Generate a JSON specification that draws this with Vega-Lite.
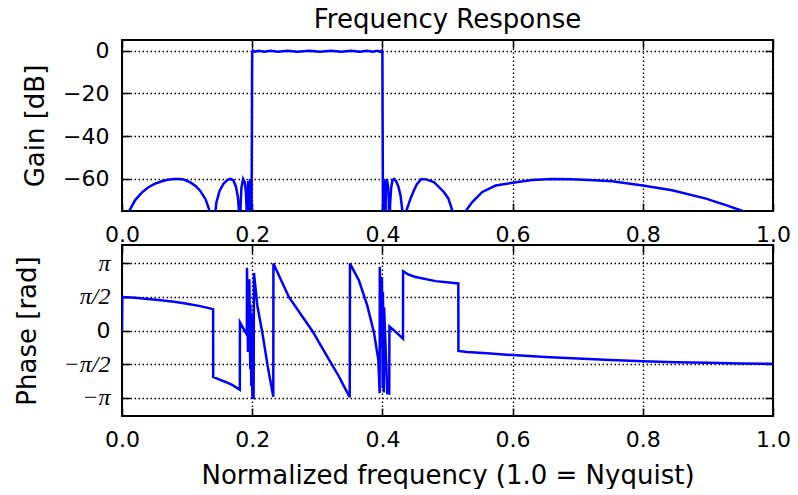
{
  "$schema": "https://vega.github.io/schema/vega-lite/v6.json",
  "padding": {"left": 13, "top": 6, "right": 0, "bottom": 0},
  "background": "white",
  "spacing": 34,
  "bounds": "flush",
  "datasets": {
    "gain": [
      {"f":0,"g":-100},{"f":0.004,"g":-85},{"f":0.008,"g":-78},{"f":0.011,"g":-75},{"f":0.02,"g":-70},{"f":0.03,"g":-66.5},{"f":0.04,"g":-64},{"f":0.05,"g":-62.3},{"f":0.06,"g":-61.2},{"f":0.07,"g":-60.4},{"f":0.08,"g":-60.05},{"f":0.0875,"g":-60},{"f":0.095,"g":-60.3},{"f":0.105,"g":-61.6},{"f":0.113,"g":-63.3},{"f":0.12,"g":-65.5},{"f":0.1285,"g":-69.6},{"f":0.134,"g":-74.5},{"f":0.137,"g":-79},{"f":0.14,"g":-100},
      {"f":0.1425,"g":-78},{"f":0.145,"g":-71},{"f":0.15,"g":-65.5},{"f":0.156,"g":-62.2},{"f":0.162,"g":-60.4},{"f":0.167,"g":-60},{"f":0.171,"g":-60.7},{"f":0.175,"g":-63.5},{"f":0.178,"g":-68.5},{"f":0.1795,"g":-74},{"f":0.181,"g":-100},
      {"f":0.1822,"g":-72},{"f":0.1835,"g":-64},{"f":0.186,"g":-60},{"f":0.1885,"g":-61.5},{"f":0.1903,"g":-66},{"f":0.1913,"g":-73},{"f":0.192,"g":-100},
      {"f":0.1928,"g":-70},{"f":0.1938,"g":-61},{"f":0.1947,"g":-62},{"f":0.1955,"g":-100},{"f":0.1961,"g":-66},{"f":0.1966,"g":-60},{"f":0.1971,"g":-64},{"f":0.1975,"g":-100},{"f":0.198,"g":-62},{"f":0.1984,"g":-61},{"f":0.1988,"g":-100},{"f":0.1992,"g":-60},{"f":0.1995,"g":-40},{"f":0.1998,"g":-10},
      {"f":0.2,"g":-0.5},{"f":0.2012,"g":0},{"f":0.2045,"g":-0.5},{"f":0.21,"g":0},{"f":0.218,"g":-0.5},{"f":0.228,"g":0},{"f":0.24,"g":-0.5},{"f":0.254,"g":0},{"f":0.27,"g":-0.5},{"f":0.287,"g":0},{"f":0.304,"g":-0.5},{"f":0.321,"g":0},{"f":0.337,"g":-0.5},{"f":0.352,"g":0},{"f":0.365,"g":-0.5},{"f":0.376,"g":0},{"f":0.385,"g":-0.5},{"f":0.392,"g":0},{"f":0.3965,"g":-0.5},{"f":0.399,"g":0},{"f":0.4,"g":-0.5},
      {"f":0.4003,"g":-30},{"f":0.4007,"g":-60},{"f":0.4012,"g":-100},{"f":0.4018,"g":-65},{"f":0.4025,"g":-60},{"f":0.4033,"g":-66},{"f":0.4042,"g":-100},{"f":0.4052,"g":-66},{"f":0.4068,"g":-60},{"f":0.4085,"g":-63},{"f":0.4098,"g":-70},{"f":0.4108,"g":-100},
      {"f":0.4118,"g":-72},{"f":0.4135,"g":-64},{"f":0.4155,"g":-60.6},{"f":0.4178,"g":-60},{"f":0.421,"g":-61},{"f":0.4245,"g":-63.5},{"f":0.428,"g":-68},{"f":0.4303,"g":-74},{"f":0.4316,"g":-100},
      {"f":0.434,"g":-78},{"f":0.4373,"g":-74.5},{"f":0.4434,"g":-69},{"f":0.4485,"g":-65.3},{"f":0.453,"g":-62.5},{"f":0.4598,"g":-60},{"f":0.467,"g":-60.2},{"f":0.479,"g":-61.5},{"f":0.487,"g":-63.8},{"f":0.4946,"g":-66.2},{"f":0.501,"g":-69},{"f":0.505,"g":-72.5},{"f":0.5074,"g":-75},{"f":0.511,"g":-79},{"f":0.5166,"g":-100},
      {"f":0.521,"g":-82},{"f":0.528,"g":-75},{"f":0.538,"g":-70.8},{"f":0.5535,"g":-66.1},{"f":0.574,"g":-63.1},{"f":0.6,"g":-61.8},{"f":0.63,"g":-60.5},{"f":0.66,"g":-60},{"f":0.69,"g":-60.1},{"f":0.717,"g":-60.5},{"f":0.753,"g":-61.1},{"f":0.8,"g":-63.1},{"f":0.845,"g":-65.3},{"f":0.897,"g":-69.2},{"f":0.93,"g":-72.5},{"f":0.953,"g":-75},{"f":0.97,"g":-78},{"f":0.985,"g":-83},{"f":1.0,"g":-100}
    ],
    "phase": [
      {"f":0,"p":0},{"f":0.0005,"p":1.57},{"f":0.02,"p":1.53},{"f":0.04,"p":1.47},{"f":0.06,"p":1.41},{"f":0.08,"p":1.34},{"f":0.10,"p":1.25},{"f":0.12,"p":1.14},{"f":0.14,"p":1.0},
      {"f":0.1401,"p":-2.17},{"f":0.15,"p":-2.3},{"f":0.16,"p":-2.42},{"f":0.17,"p":-2.56},{"f":0.181,"p":-2.77},
      {"f":0.1812,"p":0.38},{"f":0.1918,"p":-0.2},{"f":0.192,"p":2.93},{"f":0.1935,"p":-1.0},{"f":0.1938,"p":1.5},{"f":0.1953,"p":-0.3},{"f":0.1956,"p":2.4},{"f":0.197,"p":-1.8},{"f":0.1973,"p":1.2},{"f":0.1986,"p":-2.6},{"f":0.1989,"p":0.8},{"f":0.2003,"p":-3.1},{"f":0.2022,"p":-3.14},{"f":0.2027,"p":2.69},
      {"f":0.2079,"p":1.16},{"f":0.2155,"p":-0.09},{"f":0.224,"p":-1.7},{"f":0.2324,"p":-3.1},
      {"f":0.2326,"p":3.13},{"f":0.2565,"p":1.56},{"f":0.2924,"p":-0.02},{"f":0.318,"p":-1.36},{"f":0.333,"p":-2.14},{"f":0.3384,"p":-2.46},{"f":0.3498,"p":-3.12},
      {"f":0.3502,"p":3.13},{"f":0.364,"p":2.34},{"f":0.3768,"p":1.16},{"f":0.387,"p":-0.09},{"f":0.3937,"p":-1.36},{"f":0.3958,"p":-2.93},
      {"f":0.396,"p":2.98},{"f":0.399,"p":-0.8},{"f":0.3992,"p":2.5},{"f":0.4005,"p":-2.7},{"f":0.4008,"p":1.8},{"f":0.4022,"p":-2.9},{"f":0.4026,"p":1.09},{"f":0.4075,"p":-2.93},{"f":0.4105,"p":-2.95},
      {"f":0.4108,"p":0.19},{"f":0.42,"p":-0.05},{"f":0.4316,"p":-0.38},
      {"f":0.4318,"p":2.77},{"f":0.44,"p":2.62},{"f":0.451,"p":2.5},{"f":0.4818,"p":2.31},{"f":0.5166,"p":2.2},
      {"f":0.5168,"p":-0.96},{"f":0.53,"p":-1.01},{"f":0.561,"p":-1.07},{"f":0.6,"p":-1.15},{"f":0.65,"p":-1.24},{"f":0.7,"p":-1.31},{"f":0.75,"p":-1.38},{"f":0.8,"p":-1.44},{"f":0.85,"p":-1.48},{"f":0.9,"p":-1.51},{"f":0.95,"p":-1.54},{"f":1.0,"p":-1.56}
    ]
  },
  "vconcat": [
    {
      "title": {"text": "Frequency Response", "offset": 6},
      "width": 651,
      "height": 171,
      "data": {"name": "gain"},
      "layer": [
        {
          "mark": {"type": "line", "color": "#0000ff", "strokeWidth": 2.5, "clip": true},
          "encoding": {
            "x": {"field": "f", "type": "quantitative", "scale": {"domain": [0, 1], "nice": false, "zero": false},
                  "axis": {"title": null, "values": [0, 0.2, 0.4, 0.6, 0.8, 1.0], "format": ".1f", "labelPadding": 21}},
            "y": {"field": "g", "type": "quantitative", "scale": {"domain": [-75, 5], "nice": false, "zero": false},
                  "axis": {"title": "Gain [dB]", "values": [0, -20, -40, -60], "labelPadding": 21, "minExtent": 62, "maxExtent": 62, "titlePadding": 12}}
          }
        },
        {
          "mark": {"type": "line", "opacity": 0},
          "encoding": {
            "x": {"field": "f", "type": "quantitative", "axis": {"orient": "top", "title": null, "labels": false, "grid": false, "values": [0, 0.2, 0.4, 0.6, 0.8, 1.0]}},
            "y": {"field": "g", "type": "quantitative", "axis": {"orient": "right", "title": null, "labels": false, "grid": false, "values": [0, -20, -40, -60]}}
          }
        }
      ],
      "resolve": {"axis": {"x": "independent", "y": "independent"}}
    },
    {
      "width": 651,
      "height": 171,
      "data": {"name": "phase"},
      "layer": [
        {
          "mark": {"type": "line", "color": "#0000ff", "strokeWidth": 2.5, "clip": true},
          "encoding": {
            "x": {"field": "f", "type": "quantitative", "scale": {"domain": [0, 1], "nice": false, "zero": false},
                  "axis": {"title": "Normalized frequency (1.0 = Nyquist)", "values": [0, 0.2, 0.4, 0.6, 0.8, 1.0], "format": ".1f", "labelPadding": 21, "titlePadding": 12}},
            "y": {"field": "p", "type": "quantitative", "scale": {"domain": [-4, 4], "nice": false, "zero": false},
                  "axis": {"title": "Phase [rad]", "values": [-3.141592653589793, -1.5707963267948966, 0, 1.5707963267948966, 3.141592653589793],
                           "labelExpr": "datum.value > 3 ? 'π' : datum.value > 1 ? 'π/2' : datum.value > -1 ? '0' : datum.value > -3 ? '−π/2' : '−π'",
                           "labelFont": {"condition": {"test": "abs(datum.value) < 0.5", "value": "DejaVu Sans"}, "value": "Liberation Serif"},
                           "labelFontStyle": {"condition": {"test": "abs(datum.value) < 0.5", "value": "normal"}, "value": "italic"},
                           "labelFontSize": {"condition": {"test": "abs(datum.value) < 0.5", "value": 22}, "value": 24},
                           "labelPadding": 20, "minExtent": 62, "maxExtent": 62, "titlePadding": 20}}
          }
        },
        {
          "mark": {"type": "line", "opacity": 0},
          "encoding": {
            "x": {"field": "f", "type": "quantitative", "axis": {"orient": "top", "title": null, "labels": false, "grid": false, "values": [0, 0.2, 0.4, 0.6, 0.8, 1.0]}},
            "y": {"field": "p", "type": "quantitative", "axis": {"orient": "right", "title": null, "labels": false, "grid": false, "values": [-3.141592653589793, -1.5707963267948966, 0, 1.5707963267948966, 3.141592653589793]}}
          }
        }
      ],
      "resolve": {"axis": {"x": "independent", "y": "independent"}}
    }
  ],
  "config": {
    "font": "DejaVu Sans",
    "view": {"stroke": "black", "strokeWidth": 2},
    "axis": {
      "domain": false, "grid": true, "gridColor": "black", "gridDash": [1.5, 2.5], "gridWidth": 1.3, "gridOpacity": 1,
      "tickColor": "black", "tickSize": -8, "tickWidth": 1.5,
      "labelColor": "black", "labelFont": "DejaVu Sans", "labelFontSize": 22, "labelFlush": false,
      "titleFont": "DejaVu Sans", "titleFontSize": 26, "titleFontWeight": "normal", "titleColor": "black"
    },
    "title": {"fontSize": 26, "fontWeight": "normal", "font": "DejaVu Sans", "color": "black", "anchor": "middle"}
  }
}
